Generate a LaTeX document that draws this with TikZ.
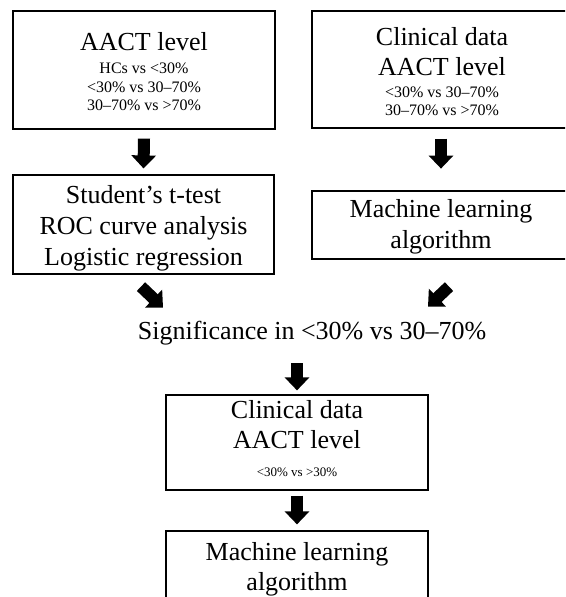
\documentclass[tikz,border=0pt]{standalone}
\usepackage{fontspec}
\setmainfont{Liberation Serif}
\usetikzlibrary{arrows.meta,calc}
\begin{document}
\begin{tikzpicture}[x=1pt,y=-1pt,
  box/.style={draw, line width=1.2pt, inner sep=0pt},
  big/.style={font=\fontsize{26}{30}\selectfont, anchor=base, inner sep=0pt},
  small/.style={font=\fontsize{16}{18}\selectfont, anchor=base, inner sep=0pt},
  tiny/.style={font=\fontsize{13}{15}\selectfont, anchor=base, inner sep=0pt},
  blockarrow/.style={line width=12pt, -{Triangle[width=24pt,length=13pt]}}]
\clip (0,0) rectangle (565,597);
% boxes
\node[box, minimum width=262pt, minimum height=118pt] (b1) at (144,70) {};
\node[box, minimum width=258pt, minimum height=117pt] (b2) at (441,69.5) {};
\node[box, minimum width=261pt, minimum height=99pt] (b3) at (143.5,224.5) {};
\node[box, minimum width=258pt, minimum height=68pt] (b4) at (441,225) {};
\node[box, minimum width=262pt, minimum height=95pt] (b5) at (297,442.5) {};
\node[box, minimum width=262pt, minimum height=76pt] (b6) at (297,569) {};
% texts box 1
\node[big] (t1a) at (144,50) {AACT level};
\node[small] (t1b) at (144,73) {HCs vs <30\%};
\node[small] (t1c) at (144,92) {<30\% vs 30–70\%};
\node[small] (t1d) at (144,110) {30–70\% vs >70\%};
% box 2
\node[big] (t2a) at (442,45) {Clinical data};
\node[big] (t2b) at (442,75) {AACT level};
\node[small] (t2c) at (442,97) {<30\% vs 30–70\%};
\node[small] (t2d) at (442,115) {30–70\% vs >70\%};
% box 3
\node[big] (t3a) at (143.5,203) {Student’s t-test};
\node[big] (t3b) at (143.5,234) {ROC curve analysis};
\node[big] (t3c) at (143.5,265) {Logistic regression};
% box 4
\node[big] (t4a) at (441,217) {Machine learning};
\node[big] (t4b) at (441,248) {algorithm};
% significance
\node[big] (sig) at (312,339) {Significance in <30\% vs 30–70\%};
% box 5
\node[big] (t5a) at (297,418) {Clinical data};
\node[big] (t5b) at (297,448) {AACT level};
\node[tiny] (t5c) at (297,476) {<30\% vs >30\%};
% box 6
\node[big] (t6a) at (297,560) {Machine learning};
\node[big] (t6b) at (297,590) {algorithm};
% arrows
\draw[blockarrow] ([yshift=-9pt]b1.south) -- ([yshift=6pt]b3.north);
\draw[blockarrow] ([yshift=-10pt]b2.south) -- ++(0,30);
\draw[blockarrow] ($(b3.south)+(-2.5,12)$) -- ++(22,21);
\draw[blockarrow] ($(b4.south)+(8,27)$) -- ++(-21,20);
\draw[blockarrow] ($(b5.north)+(0,-31)$) -- ($(b5.north)+(0,-4)$);
\draw[blockarrow] ([yshift=-5pt]b5.south) -- ([yshift=6pt]b6.north);
\end{tikzpicture}
\end{document}
